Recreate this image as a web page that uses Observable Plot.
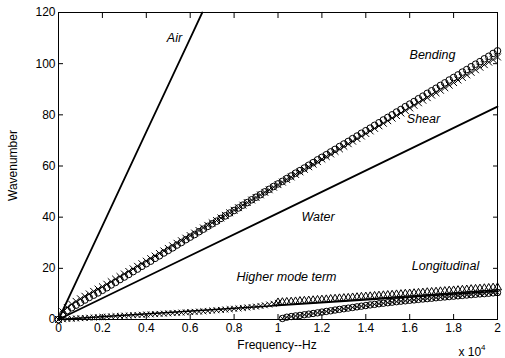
<!DOCTYPE html>
<html>
<head>
<meta charset="utf-8">
<script src="https://cdn.jsdelivr.net/npm/d3@7"></script>
<script src="https://cdn.jsdelivr.net/npm/@observablehq/plot@0.6"></script>
<style>
  html, body { margin: 0; padding: 0; background: #fff; }
  #chart svg { display: block; }
</style>
</head>
<body>
<div id="chart"></div>
<script>
// ---- data ----
const xTicks = [0, 2000, 4000, 6000, 8000, 10000, 12000, 14000, 16000, 18000, 20000];
const xTickLabels = ["0", "0.2", "0.4", "0.6", "0.8", "1", "1.2", "1.4", "1.6", "1.8", "2"];
const yTicks = [0, 20, 40, 60, 80, 100, 120];

const fAir = [0, 1000, 2000, 3000, 4000, 5000, 6000, 6550];
const kAir = [0, 18.3, 36.6, 55.0, 73.3, 91.6, 109.9, 120];

const fWater = [0, 5000, 10000, 15000, 20000];
const kWater = [0, 20.8, 41.6, 62.4, 83.2];

const fLong = [0, 5000, 10000, 15000, 20000];
const kLong = [0, 2.75, 5.5, 8.25, 11.0];

const fBend = [0,200,400,600,800,1000,1200,1400,1600,1800,2000,2200,2400,2600,2800,3000,3200,3400,3600,3800,4000,4200,4400,4600,4800,5000,5200,5400,5600,5800,6000,6200,6400,6600,6800,7000,7200,7400,7600,7800,8000,8200,8400,8600,8800,9000,9200,9400,9600,9800,10000,10200,10400,10600,10800,11000,11200,11400,11600,11800,12000,12200,12400,12600,12800,13000,13200,13400,13600,13800,14000,14200,14400,14600,14800,15000,15200,15400,15600,15800,16000,16200,16400,16600,16800,17000,17200,17400,17600,17800,18000,18200,18400,18600,18800,19000,19200,19400,19600,19800,20000];
const kBending = [0,2.2,3.5,4.6,5.6,6.6,7.6,8.6,9.5,10.4,11.4,12.4,13.5,14.5,15.6,16.6,17.6,18.7,19.7,20.8,21.8,22.8,23.9,24.9,26.0,27.0,28.0,29.1,30.1,31.2,32.2,33.2,34.3,35.3,36.4,37.4,38.4,39.5,40.5,41.6,42.6,43.6,44.7,45.7,46.8,47.8,48.8,49.9,50.9,52.0,53.0,54.0,55.1,56.1,57.2,58.2,59.2,60.3,61.3,62.4,63.4,64.4,65.5,66.5,67.6,68.6,69.6,70.7,71.7,72.8,73.8,74.8,75.9,76.9,78.0,79.0,80.0,81.1,82.1,83.2,84.2,85.2,86.3,87.3,88.4,89.4,90.4,91.5,92.5,93.6,94.6,95.6,96.7,97.7,98.8,99.8,100.8,101.9,102.9,104.0,105.0];
const kShear = [0,3.0,4.7,6.0,7.1,8.1,9.1,10.0,11.0,11.9,12.8,13.8,14.8,15.8,16.8,17.8,18.8,19.8,20.8,21.8,22.8,23.8,24.8,25.8,26.8,27.8,28.8,29.8,30.8,31.8,32.8,33.8,34.8,35.8,36.8,37.8,38.7,39.7,40.7,41.7,42.7,43.7,44.7,45.7,46.7,47.7,48.7,49.7,50.7,51.7,52.7,53.7,54.7,55.7,56.7,57.7,58.7,59.7,60.7,61.7,62.7,63.7,64.7,65.7,66.7,67.7,68.7,69.7,70.7,71.7,72.7,73.7,74.7,75.7,76.7,77.7,78.7,79.7,80.7,81.7,82.7,83.7,84.7,85.7,86.7,87.7,88.6,89.6,90.6,91.6,92.6,93.6,94.6,95.6,96.6,97.6,98.6,99.6,100.6,101.6,102.6];

const fLow = [0,200,400,600,800,1000,1200,1400,1600,1800,2000,2200,2400,2600,2800,3000,3200,3400,3600,3800,4000,4200,4400,4600,4800,5000,5200,5400,5600,5800,6000,6200,6400,6600,6800,7000,7200,7400,7600,7800,8000,8200,8400,8600,8800,9000,9200,9400,9600,9800,10000];
const kCross = [0,0.1,0.2,0.3,0.4,0.5,0.6,0.7,0.8,0.9,1.0,1.1,1.2,1.3,1.4,1.5,1.55,1.65,1.75,1.85,1.95,2.0,2.1,2.2,2.3,2.4,2.5,2.6,2.7,2.8,2.9,3.0,3.1,3.2,3.35,3.5,3.6,3.75,3.9,4.05,4.2,4.35,4.5,4.7,4.85,5.05,5.3,5.55,5.85,6.15,6.5];

const fHigh = [10000,10200,10400,10600,10800,11000,11200,11400,11600,11800,12000,12200,12400,12600,12800,13000,13200,13400,13600,13800,14000,14200,14400,14600,14800,15000,15200,15400,15600,15800,16000,16200,16400,16600,16800,17000,17200,17400,17600,17800,18000,18200,18400,18600,18800,19000,19200,19400,19600,19800,20000];
const kTri = [6.6,6.7,6.8,6.9,7.0,7.15,7.25,7.35,7.45,7.6,7.7,7.8,7.95,8.05,8.2,8.3,8.4,8.55,8.65,8.8,8.9,9.0,9.15,9.25,9.4,9.5,9.6,9.75,9.85,10.0,10.1,10.2,10.35,10.45,10.6,10.7,10.8,10.95,11.05,11.2,11.3,11.4,11.55,11.65,11.8,11.9,12.0,12.15,12.25,12.4,12.5];

const fMode = [10200,10400,10600,10800,11000,11200,11400,11600,11800,12000,12200,12400,12600,12800,13000,13200,13400,13600,13800,14000,14200,14400,14600,14800,15000,15200,15400,15600,15800,16000,16200,16400,16600,16800,17000,17200,17400,17600,17800,18000,18200,18400,18600,18800,19000,19200,19400,19600,19800,20000];
const kMode = [0.4,0.9,1.15,1.4,1.6,1.85,2.1,2.35,2.6,2.9,3.15,3.4,3.7,3.95,4.2,4.45,4.7,4.95,5.2,5.45,5.7,5.9,6.15,6.35,6.55,6.75,6.95,7.15,7.3,7.5,7.65,7.85,8.0,8.15,8.3,8.5,8.65,8.8,8.95,9.1,9.25,9.4,9.55,9.7,9.85,10.0,10.1,10.25,10.4,10.5];

// ---- build tables ----
const zip = (fs, ks) => fs.slice(0, Math.min(fs.length, ks.length)).map((f, i) => ({f, k: ks[i]}));
const air = zip(fAir, kAir);
const water = zip(fWater, kWater);
const longi = zip(fLong, kLong);
const bending = zip(fBend, kBending);
const shear = zip(fBend, kShear);
const crossLow = zip(fLow, kCross);
const tri = zip(fHigh, kTri);
const mode = zip(fMode, kMode);
const xLabelMap = new Map(xTicks.map((t, i) => [t, xTickLabels[i]]));

const FONT = "Liberation Sans, Arial, sans-serif";
const W = 505, H = 358;

const chart = Plot.plot({
  width: W,
  height: H,
  marginLeft: 58,
  marginRight: 8,
  marginTop: 12,
  marginBottom: 39,
  style: {fontFamily: FONT, fontSize: "12px", background: "#fff", color: "#000"},
  x: {domain: [0, 20000]},
  y: {domain: [0, 120]},
  marks: [
    // lines
    Plot.line(air, {x: "f", y: "k", stroke: "#000", strokeWidth: 1.8}),
    Plot.line(water, {x: "f", y: "k", stroke: "#000", strokeWidth: 1.8}),
    Plot.line(longi, {x: "f", y: "k", stroke: "#000", strokeWidth: 1.5}),
    // bending / shear markers
    Plot.dot(shear, {x: "f", y: "k", symbol: "times", r: 3.2, stroke: "#000", strokeWidth: 1}),
    Plot.dot(bending, {x: "f", y: "k", symbol: "circle", r: 3.3, stroke: "#000", fill: "none", strokeWidth: 1}),
    // low-wavenumber markers
    Plot.dot(crossLow, {x: "f", y: "k", symbol: "times", r: 2.8, stroke: "#000", strokeWidth: 1}),
    Plot.dot(tri, {x: "f", y: "k", symbol: "triangle", r: 3, stroke: "#000", fill: "none", strokeWidth: 1}),
    Plot.dot(mode, {x: "f", y: "k", symbol: "circle", r: 3.2, stroke: "#000", fill: "none", strokeWidth: 1}),
    Plot.dot(mode, {x: "f", y: "k", symbol: "times", r: 2.4, stroke: "#000", strokeWidth: 0.9}),
    // annotations
    Plot.text(["Air"], {x: 5285, y: 110.2, text: d => d, fontStyle: "italic", fontSize: 12.5}),
    Plot.text(["Bending"], {x: 17039, y: 103.2, text: d => d, fontStyle: "italic", fontSize: 12.5}),
    Plot.text(["Shear"], {x: 16629, y: 78.2, text: d => d, fontStyle: "italic", fontSize: 12.5}),
    Plot.text(["Water"], {x: 11822, y: 39.9, text: d => d, fontStyle: "italic", fontSize: 12.5}),
    Plot.text(["Higher mode term"], {x: 10387, y: 16.8, text: d => d, fontStyle: "italic", fontSize: 12.5}),
    Plot.text(["Longitudinal"], {x: 17631, y: 21.1, text: d => d, fontStyle: "italic", fontSize: 12.5}),
    // frame and inward ticks
    Plot.frame({stroke: "#000", strokeWidth: 1}),
    Plot.axisX(xTicks, {anchor: "bottom", tickSize: -5, tickFormat: () => "", label: null}),
    Plot.axisX(xTicks, {anchor: "top", tickSize: -5, tickFormat: () => "", label: null}),
    Plot.axisY(yTicks, {anchor: "left", tickSize: -5, tickFormat: () => "", label: null}),
    Plot.axisY(yTicks, {anchor: "right", tickSize: -5, tickFormat: () => "", label: null}),
    // tick labels
    Plot.axisX(xTicks, {anchor: "bottom", tickSize: 0, tickPadding: 4, tickFormat: d => xLabelMap.get(d), label: null, fontSize: 12}),
    Plot.axisY(yTicks, {anchor: "left", tickSize: 0, tickPadding: 3, tickFormat: d => String(d), label: null, fontSize: 12})
  ]
});

// axis titles and exponent note
const svg = d3.select(chart);
svg.append("text")
  .attr("x", 277).attr("y", 349)
  .attr("text-anchor", "middle")
  .attr("font-family", FONT).attr("font-size", 12)
  .text("Frequency--Hz");
svg.append("text")
  .attr("transform", "translate(17,165.5) rotate(-90)")
  .attr("text-anchor", "middle")
  .attr("font-family", FONT).attr("font-size", 12)
  .text("Wavenumber");
const note = svg.append("text")
  .attr("x", 472).attr("y", 356)
  .attr("font-family", FONT).attr("font-size", 12);
note.append("tspan").text("x 10");
note.append("tspan").attr("dy", -6).attr("font-size", 8).text("4");

document.getElementById("chart").appendChild(chart);
</script>
</body>
</html>
